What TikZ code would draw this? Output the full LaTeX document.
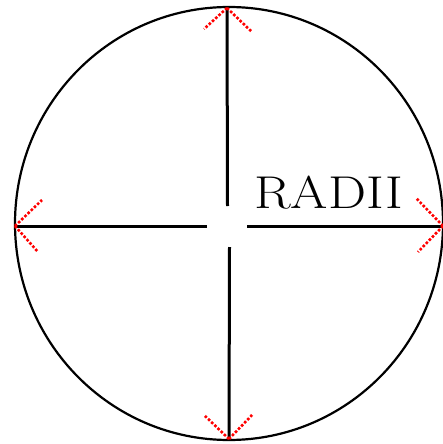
\documentclass[tikz,border=0pt]{standalone}
\begin{document}
\begin{tikzpicture}[x=1pt,y=-1pt,
  radius line/.style={black,line width=3pt},
  rim/.style={black,line width=2.2pt},
  headarm/.style={red,line width=2.6pt,dash pattern=on 2.6pt off 1.8pt},
  label/.style={font=\fontsize{46}{46}\selectfont,inner sep=0pt,xscale=1.17}]
\useasboundingbox (0,0) rectangle (443,444);
\draw[rim] (229,223.5) ellipse [x radius=214, y radius=216.5];
\coordinate (c) at (228,226);
\coordinate (t) at (227,8);
\coordinate (b) at (229,439);
\coordinate (l) at (15,226);
\coordinate (r) at (443,226);
\coordinate (ct) at (227.5,206);
\coordinate (cb) at (229.5,247);
\coordinate (cl) at (207,226);
\coordinate (cr) at (247,226);
\draw[radius line] (ct) -- (t);
\draw[radius line] (cb) -- (b);
\draw[radius line] (cl) -- (l);
\draw[radius line] (cr) -- (r);
% arrowheads
\draw[headarm] (t) -- (204,29);
\draw[headarm] (t) -- (252,32);
\draw[headarm] (b) -- (204,415);
\draw[headarm] (b) -- (253,414);
\draw[headarm] (l) -- (42,200);
\draw[headarm] (l) -- (38,252);
\draw[headarm] (r) -- (416,198);
\draw[headarm] (r) -- (418,252);
\node[label,anchor=base] (txt) at (328.5,208) {RADII};
\end{tikzpicture}
\end{document}
